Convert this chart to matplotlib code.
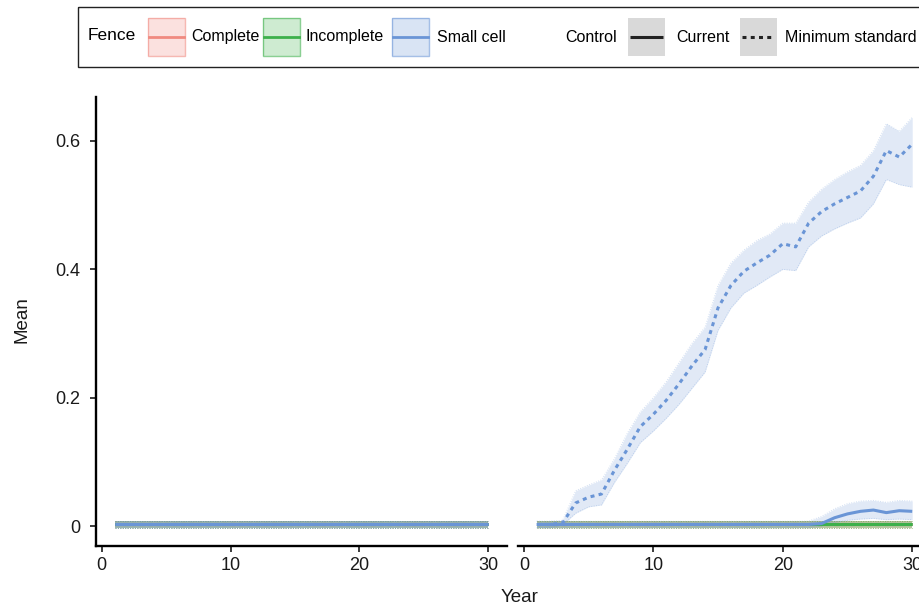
import matplotlib
matplotlib.use('Agg')
import matplotlib.pyplot as plt
from matplotlib.patches import Rectangle

plt.rcParams['font.family'] = ['Liberation Sans', 'DejaVu Sans']

# ---------------- data ----------------
years = [1, 2, 3, 4, 5, 6, 7, 8, 9, 10, 11, 12, 13, 14, 15,
         16, 17, 18, 19, 20, 21, 22, 23, 24, 25, 26, 27, 28, 29, 30]

fences = ["Complete", "Incomplete", "Small cell"]
controls = ["Current", "Minimum standard"]
fence_colors = {"Complete": "#F08A80", "Incomplete": "#3DB04B", "Small cell": "#6A95D6"}

# flat near-zero series
flat_mean = [0.0025, 0.0025, 0.0025, 0.0025, 0.0025, 0.0025, 0.0025, 0.0025, 0.0025, 0.0025,
             0.0025, 0.0025, 0.0025, 0.0025, 0.0025, 0.0025, 0.0025, 0.0025, 0.0025, 0.0025,
             0.0025, 0.0025, 0.0025, 0.0025, 0.0025, 0.0025, 0.0025, 0.0025, 0.0025, 0.0025]
flat_lo = [-0.0025, -0.0025, -0.0025, -0.0025, -0.0025, -0.0025, -0.0025, -0.0025, -0.0025, -0.0025,
           -0.0025, -0.0025, -0.0025, -0.0025, -0.0025, -0.0025, -0.0025, -0.0025, -0.0025, -0.0025,
           -0.0025, -0.0025, -0.0025, -0.0025, -0.0025, -0.0025, -0.0025, -0.0025, -0.0025, -0.0025]
flat_hi = [0.0075, 0.0075, 0.0075, 0.0075, 0.0075, 0.0075, 0.0075, 0.0075, 0.0075, 0.0075,
           0.0075, 0.0075, 0.0075, 0.0075, 0.0075, 0.0075, 0.0075, 0.0075, 0.0075, 0.0075,
           0.0075, 0.0075, 0.0075, 0.0075, 0.0075, 0.0075, 0.0075, 0.0075, 0.0075, 0.0075]

# right panel, Small cell, Current
sc_cur_mean = [0.0025, 0.0025, 0.0025, 0.0025, 0.0025, 0.0025, 0.0025, 0.0025, 0.0025, 0.0025,
               0.0025, 0.0025, 0.0025, 0.0025, 0.0025, 0.0025, 0.0025, 0.0025, 0.0025, 0.0025,
               0.0025, 0.0025, 0.004, 0.013, 0.019, 0.023, 0.025, 0.021, 0.024, 0.023]
sc_cur_lo = [-0.0025, -0.0025, -0.0025, -0.0025, -0.0025, -0.0025, -0.0025, -0.0025, -0.0025, -0.0025,
             -0.0025, -0.0025, -0.0025, -0.0025, -0.0025, -0.0025, -0.0025, -0.0025, -0.0025, -0.0025,
             -0.0025, -0.0025, 0.0, 0.006, 0.009, 0.011, 0.012, 0.010, 0.011, 0.010]
sc_cur_hi = [0.0075, 0.0075, 0.0075, 0.0075, 0.0075, 0.0075, 0.0075, 0.0075, 0.0075, 0.0075,
             0.0075, 0.0075, 0.0075, 0.0075, 0.0075, 0.0075, 0.0075, 0.0075, 0.0075, 0.0075,
             0.0075, 0.008, 0.015, 0.027, 0.035, 0.039, 0.040, 0.037, 0.040, 0.039]

# right panel, Small cell, Minimum standard
sc_min_mean = [0.0025, 0.0025, 0.005, 0.036, 0.045, 0.050, 0.087, 0.120, 0.155, 0.174,
               0.196, 0.222, 0.250, 0.275, 0.340, 0.375, 0.397, 0.410, 0.422, 0.440,
               0.435, 0.472, 0.490, 0.502, 0.512, 0.522, 0.545, 0.585, 0.575, 0.595]
sc_min_lo = [-0.0025, -0.0025, 0.002, 0.020, 0.030, 0.033, 0.068, 0.098, 0.130, 0.148,
             0.168, 0.190, 0.215, 0.240, 0.305, 0.340, 0.363, 0.375, 0.388, 0.400,
             0.398, 0.435, 0.452, 0.463, 0.472, 0.480, 0.502, 0.540, 0.532, 0.528]
sc_min_hi = [0.0075, 0.0075, 0.009, 0.055, 0.064, 0.072, 0.105, 0.145, 0.178, 0.200,
             0.225, 0.255, 0.285, 0.310, 0.375, 0.410, 0.430, 0.445, 0.455, 0.472,
             0.472, 0.505, 0.525, 0.540, 0.552, 0.562, 0.585, 0.627, 0.615, 0.637]

flat = (flat_mean, flat_lo, flat_hi)
left_series = {(f, c): flat for f in fences for c in controls}
right_series = {
    ("Complete", "Current"): flat,
    ("Complete", "Minimum standard"): flat,
    ("Incomplete", "Current"): flat,
    ("Incomplete", "Minimum standard"): flat,
    ("Small cell", "Current"): (sc_cur_mean, sc_cur_lo, sc_cur_hi),
    ("Small cell", "Minimum standard"): (sc_min_mean, sc_min_lo, sc_min_hi),
}

x_ticks = [0, 10, 20, 30]
y_ticks = [0, 0.2, 0.4, 0.6]
y_ticklabels = ["0", "0.2", "0.4", "0.6"]

# ---------------- figure ----------------
W, H = 920, 608
fig = plt.figure(figsize=(W / 100, H / 100), dpi=100)


def rect(x0, x1, y0, y1):
    return [x0 / W, 1 - y1 / H, (x1 - x0) / W, (y1 - y0) / H]


axL = fig.add_axes(rect(96, 507, 97, 546))
axR = fig.add_axes(rect(518, 931, 97, 546))

ls_map = {"Current": "-", "Minimum standard": (0, (1.3, 1.4))}

for ax, series in ((axL, left_series), (axR, right_series)):
    for f in fences:
        for c in controls:
            m, lo, hi = series[(f, c)]
            col = fence_colors[f]
            ax.fill_between(years, lo, hi, color=col, alpha=0.2, lw=0)
            ax.plot(years, lo, color=col, alpha=0.3, lw=0.7, ls=(0, (1, 1.5)))
            ax.plot(years, hi, color=col, alpha=0.3, lw=0.7, ls=(0, (1, 1.5)))
    for f in fences:
        for c in controls:
            m, lo, hi = series[(f, c)]
            ax.plot(years, m, color=fence_colors[f], lw=2.2, ls=ls_map[c],
                    solid_capstyle='butt', dash_capstyle='butt')

    ax.set_xlim(-0.45, 31.45)
    ax.set_ylim(-0.031, 0.6685)
    ax.set_xticks(x_ticks)
    ax.set_xticklabels([str(t) for t in x_ticks])
    for s in ("top", "right"):
        ax.spines[s].set_visible(False)
    ax.spines["bottom"].set_linewidth(1.7)
    ax.spines["left"].set_linewidth(1.7)
    ax.tick_params(axis='x', length=4, width=1.2, pad=4, labelsize=13, colors='#1a1a1a')
    ax.tick_params(axis='y', length=4, width=1.2, pad=7, labelsize=13, colors='#1a1a1a')
    ax.patch.set_alpha(0)

axL.set_yticks(y_ticks)
axL.set_yticklabels(y_ticklabels)
axR.spines["left"].set_visible(False)
axR.set_yticks([])

fig.text(22 / W, 1 - 320 / H, "Mean", rotation=90, ha='center', va='center', fontsize=13.5, color='#1a1a1a')
fig.text(520 / W, 1 - 598 / H, "Year", ha='center', va='center', fontsize=13.5, color='#1a1a1a')

# ---------------- legend (drawn manually) ----------------
ov = fig.add_axes([0, 0, 1, 1])
ov.set_xlim(0, W)
ov.set_ylim(H, 0)
ov.axis('off')
ov.add_patch(Rectangle((78, 7), 900, 60, fill=False, lw=1.0, ec='#222222'))
ov.text(88, 36, "Fence", ha='left', va='center', fontsize=12.5)

key_y0, key_h = 18, 38
fence_key_x = [148, 263, 392]
fence_text_x = [191, 306, 437]
for f, kx, tx in zip(fences, fence_key_x, fence_text_x):
    col = fence_colors[f]
    ov.add_patch(Rectangle((kx, key_y0), 37, key_h, fc=col, alpha=0.25, ec='none'))
    ov.add_patch(Rectangle((kx, key_y0), 37, key_h, fill=False, ec=col, alpha=0.6, lw=1.0))
    ov.plot([kx + 1, kx + 36], [key_y0 + key_h / 2] * 2, color=col, lw=2.0)
    ov.text(tx, 37, f, ha='left', va='center', fontsize=11.5)

ov.text(565, 37, "Control", ha='left', va='center', fontsize=11.5)
ctrl_key_x = [628, 740]
ctrl_text_x = [676, 785]
for c, kx, tx in zip(controls, ctrl_key_x, ctrl_text_x):
    ov.add_patch(Rectangle((kx, key_y0), 37, key_h, fc='#d9d9d9', ec='none'))
    ov.plot([kx + 2, kx + 35], [key_y0 + key_h / 2] * 2, color='#222222', lw=2.2,
            ls=ls_map[c], dash_capstyle='butt', solid_capstyle='butt')
    ov.text(tx, 37, c, ha='left', va='center', fontsize=11.5)

fig.savefig("out.png", dpi=100)
